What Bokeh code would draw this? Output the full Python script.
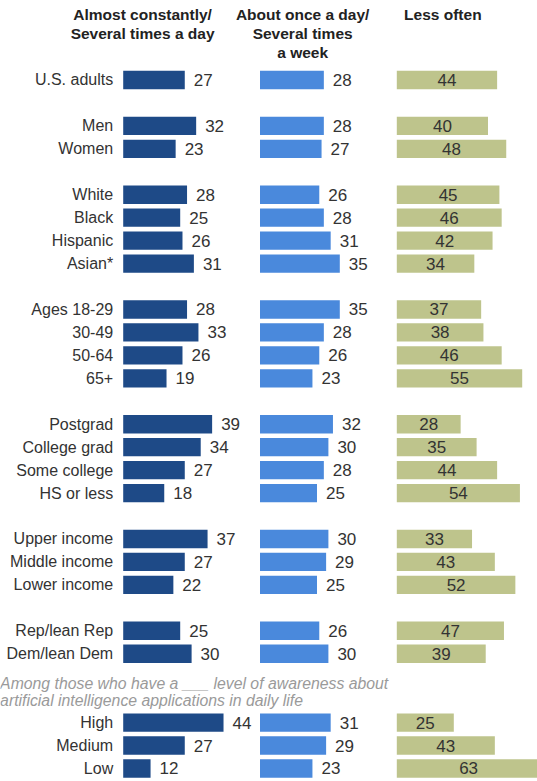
from bokeh.plotting import figure
from bokeh.models import ColumnDataSource, Range1d
from bokeh.core.properties import value
from bokeh.embed import file_html
from bokeh.resources import INLINE

# ---------------- data ----------------
categories = ["U.S. adults",
              "Men", "Women",
              "White", "Black", "Hispanic", "Asian*",
              "Ages 18-29", "30-49", "50-64", "65+",
              "Postgrad", "College grad", "Some college", "HS or less",
              "Upper income", "Middle income", "Lower income",
              "Rep/lean Rep", "Dem/lean Dem",
              "High", "Medium", "Low"]
group_sizes = [1, 2, 4, 4, 4, 3, 2, 3]

constantly = [27, 32, 23, 28, 25, 26, 31, 28, 33, 26, 19, 39, 34, 27, 18, 37, 27, 22, 25, 30, 44, 27, 12]
daily_weekly = [28, 28, 27, 26, 28, 31, 35, 35, 28, 26, 23, 32, 30, 28, 25, 30, 29, 25, 26, 30, 31, 29, 23]
less_often = [44, 40, 48, 45, 46, 42, 34, 37, 38, 46, 55, 28, 35, 44, 54, 33, 43, 52, 47, 39, 25, 43, 63]

headers = [["Almost constantly/", "Several times a day"],
           ["About once a day/", "Several times", "a week"],
           ["Less often"]]
note_lines = ["Among those who have a ___ level of awareness about",
              "artificial intelligence applications in daily life"]

# ---------------- layout ----------------
FONT = value("Liberation Sans")
col_offsets = [0, 60, 120]
colors = ["#1e4a87", "#4a89dc", "#bec48c"]

# row slots: one blank slot between groups, an extra slot before the last group (note)
slots = []
s = 0
for gi, n in enumerate(group_sizes):
    if gi == len(group_sizes) - 1:
        s += 1
    for k in range(n):
        slots.append(s)
        s += 1
    s += 1

W, H = 537, 781
p = figure(width=W, height=H, output_backend="svg", toolbar_location=None,
           x_range=Range1d(-53.82, 181.71), y_range=Range1d(30.568, -3.464),
           min_border=0, outline_line_color=None)
p.axis.visible = False
p.grid.visible = False
p.background_fill_color = "white"
p.border_fill_color = "white"

BH = 0.8
series = [constantly, daily_weekly, less_often]
for ci, vals in enumerate(series):
    off = col_offsets[ci]
    src = ColumnDataSource(dict(
        y=slots,
        left=[off] * len(vals),
        right=[off + v for v in vals],
        mid=[off + v / 2 for v in vals],
        lab=[str(v) for v in vals],
    ))
    p.hbar(y="y", left="left", right="right", height=BH, source=src,
           fill_color=colors[ci], line_color=None)
    if ci < 2:
        p.text(x="right", y="y", text="lab", source=src, x_offset=9,
               text_align="left", text_baseline="middle",
               text_font=FONT, text_font_size="17px", text_color="#333333")
    else:
        p.text(x="mid", y="y", text="lab", source=src,
               text_align="center", text_baseline="middle",
               text_font=FONT, text_font_size="17px", text_color="#333333")

# category labels
p.text(x=[-4.39] * len(categories), y=slots, text=categories,
       text_align="right", text_baseline="middle",
       text_font=FONT, text_font_size="16px", text_color="#333333")

# column headers
header_x = [8.5, 78.7, 140.2]
header_y = [-2.854, -2.013, -1.185]
for ci, lines in enumerate(headers):
    p.text(x=[header_x[ci]] * len(lines), y=header_y[:len(lines)], text=lines,
           text_align="center", text_baseline="middle",
           text_font=FONT, text_font_size="15.5px", text_font_style="bold",
           text_color="#222222")

# italic note
p.text(x=[-54.0, -54.0], y=[26.28, 27.04], text=note_lines,
       text_align="left", text_baseline="middle",
       text_font=FONT, text_font_size="15.8px", text_font_style="italic",
       text_color="#9a9a9a")

open("out.html", "w").write(file_html(p, INLINE))
